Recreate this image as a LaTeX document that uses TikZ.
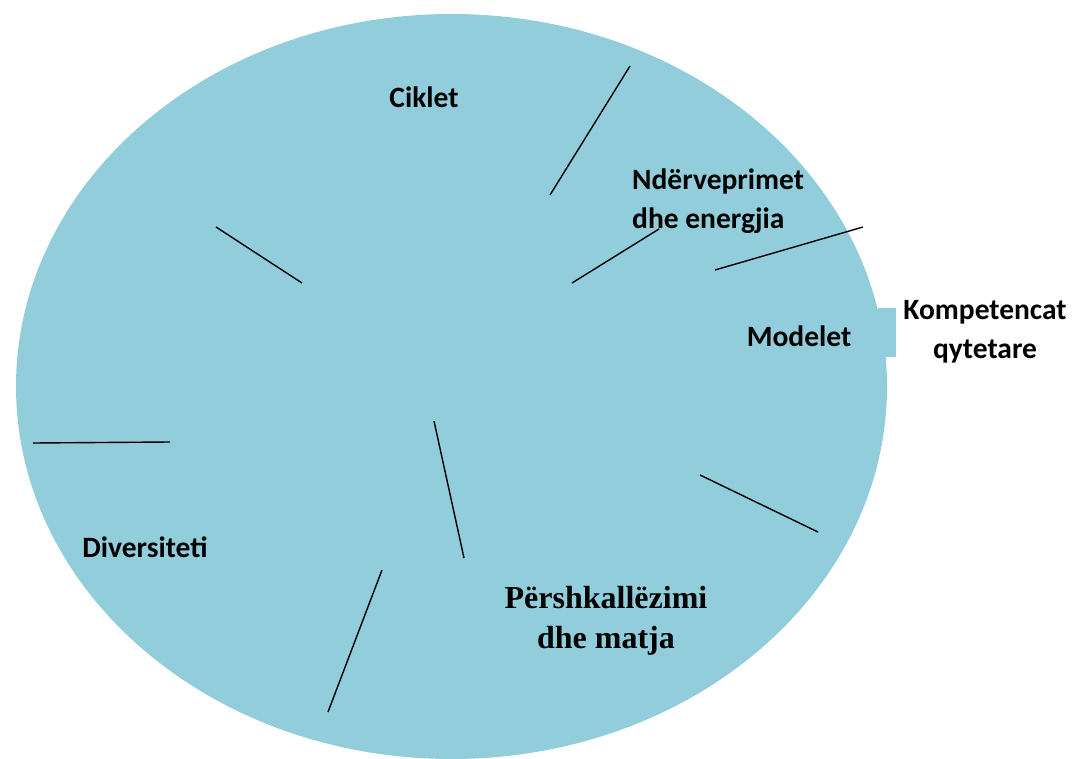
\documentclass[tikz,border=0pt]{standalone}
\usepackage{fontspec}
\setmainfont{Liberation Serif}
\newfontfamily\calib{Carlito}
\definecolor{aqua}{HTML}{92CDDC}
\tikzset{
  lbl/.style={font=\calib\bfseries\fontsize{29.5}{39.5}\selectfont, inner sep=0pt, text=black},
  slbl/.style={font=\rmfamily\bfseries\fontsize{32}{40}\selectfont, inner sep=0pt, text=black},
  spoke/.style={draw=black, line width=1.4pt}
}
\begin{document}
\begin{tikzpicture}[x=1pt,y=-1pt]
\useasboundingbox (0,0) rectangle (1073,759);
\fill[aqua] (878,308) rectangle (896,357);
\fill[aqua] (451.5,386.5) ellipse [x radius=435.5, y radius=372.5];
% spokes
\coordinate (s1a) at (630,66);  \coordinate (s1b) at (550,195);
\coordinate (s2a) at (216,227); \coordinate (s2b) at (302,283);
\coordinate (s3a) at (572,283); \coordinate (s3b) at (659,229);
\coordinate (s4a) at (715,270); \coordinate (s4b) at (863,227);
\coordinate (s5a) at (33,443);  \coordinate (s5b) at (170,442);
\coordinate (s6a) at (434,421); \coordinate (s6b) at (464,558);
\coordinate (s7a) at (700,475); \coordinate (s7b) at (818,532);
\coordinate (s8a) at (382,570); \coordinate (s8b) at (328,712);
\foreach \i in {1,...,8} \draw[spoke] (s\i a) -- (s\i b);
% labels
\node[lbl] (ciklet) at (424,97) {Ciklet};
\node[lbl, anchor=west, align=left] (nder) at (632,201) {Ndërveprimet\\dhe energjia};
\node[lbl] (modelet) at (799,336) {Modelet};
\node[lbl, align=center] (komp) at (985,332) {Kompetencat\\qytetare};
\node[lbl] (div) at (145,547) {Diversiteti};
\node[slbl, align=center] (persh) at (606,621) {Përshkallëzimi\\dhe matja};
\end{tikzpicture}
\end{document}
